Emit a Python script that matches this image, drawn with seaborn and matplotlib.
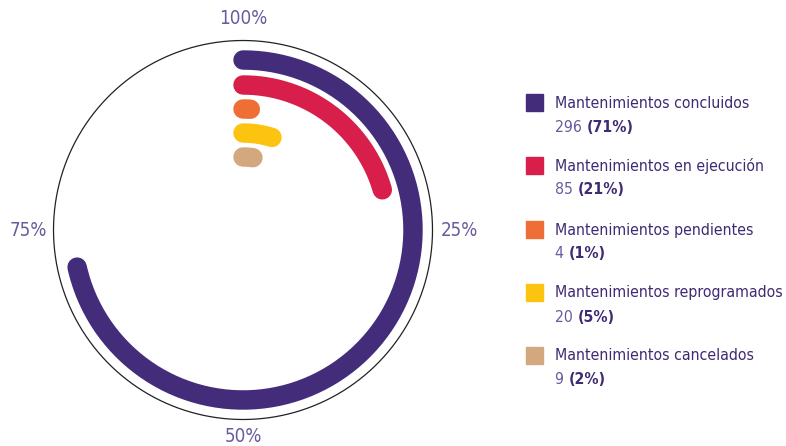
import numpy as np
import pandas as pd
import matplotlib
matplotlib.use("Agg")
import matplotlib.pyplot as plt
from matplotlib import font_manager as fm
import seaborn as sns

# Maintenance status summary
categories = [
    "Mantenimientos concluidos",
    "Mantenimientos en ejecución",
    "Mantenimientos pendientes",
    "Mantenimientos reprogramados",
    "Mantenimientos cancelados",
]
counts = [296, 85, 4, 20, 9]
percent_labels = ["71%", "21%", "1%", "5%", "2%"]
colors = ["#432c7a", "#d81e4a", "#ee6e35", "#fcc410", "#d3a87f"]
tick_labels = ["100%", "25%", "50%", "75%"]

sns.set_theme(style="white")

# prefer a narrow face for the labels when one is installed
installed = {(f.name, f.stretch) for f in fm.fontManager.ttflist}
if any(n == "Liberation Sans Narrow" for n, _ in installed):
    FONT = dict(family=["Liberation Sans Narrow", "DejaVu Sans"], stretch="normal")
elif ("DejaVu Sans", "condensed") in installed:
    FONT = dict(family=["DejaVu Sans"], stretch="condensed")
else:
    FONT = dict(family=["DejaVu Sans"], stretch="normal")
plt.rcParams["font.family"] = FONT["family"]
plt.rcParams["font.stretch"] = FONT["stretch"]

W, H, DPI = 786, 446, 100
fig = plt.figure(figsize=(W / DPI, H / DPI), dpi=DPI)

# polar axes in pixel units: centre (243, 230), outer ring radius 190
cx, cy, R = 243, 230, 190
ax = fig.add_axes([(cx - R) / W, (H - cy - R) / H, 2 * R / W, 2 * R / H],
                  projection="polar")
ax.set_theta_zero_location("N")
ax.set_theta_direction(-1)
ax.set_ylim(0, R)

total = sum(counts)
radii = [170, 145, 121, 97, 73]
rows = []
for cat, n, r in zip(categories, counts, radii):
    frac = n / total
    th = np.linspace(0, frac * 2 * np.pi, 200)
    rows.append(pd.DataFrame({"theta": th, "r": r, "cat": cat}))
arcs = pd.concat(rows, ignore_index=True)

sns.lineplot(data=arcs, x="theta", y="r", hue="cat", hue_order=categories,
             palette=colors, sort=False, estimator=None, legend=False,
             linewidth=14, solid_capstyle="round", ax=ax)

ax.grid(False)
ax.set_yticks([])
ax.set_xticks([])
ax.set_xlabel("")
ax.set_ylabel("")
ax.tick_params(axis="both", which="both", length=0)
for sp in ax.spines.values():
    sp.set_visible(False)

# thin outer ring
ring = np.linspace(0, 2 * np.pi, 721)
ax.plot(ring, np.full_like(ring, R - 0.5), color="#222222", lw=0.9,
        clip_on=False)

# quarter marks around the ring
for ang, lab, rr in zip([0, 90, 180, 270], tick_labels, [212, 216, 207, 215]):
    ax.text(np.deg2rad(ang), rr, lab, color="#6a5a9e", fontsize=13.5,
            ha="center", va="center", clip_on=False)

# legend built from text and squares
name_color = "#3f2a73"
num_color = "#6a5a9e"
fs = 11.3
row_y = [103, 166, 230, 293, 356]
for cat, n, p, c, y in zip(categories, counts, percent_labels, colors, row_y):
    fig.patches.append(plt.Rectangle((526 / W, 1 - (y + 8) / H), 17 / W, 17 / H,
                                     transform=fig.transFigure, color=c))
    fig.text(555 / W, 1 - y / H, cat, color=name_color, fontsize=fs,
             va="center", ha="left")
    t = fig.text(555 / W, 1 - (y + 24) / H, f"{n} ", color=num_color,
                 fontsize=fs, va="center", ha="left")
    ax.annotate(f"({p})", xy=(1, 0.5), xycoords=t, va="center", ha="left",
                color=name_color, fontsize=fs, fontweight="bold",
                annotation_clip=False)

fig.savefig("out.png", dpi=DPI)
